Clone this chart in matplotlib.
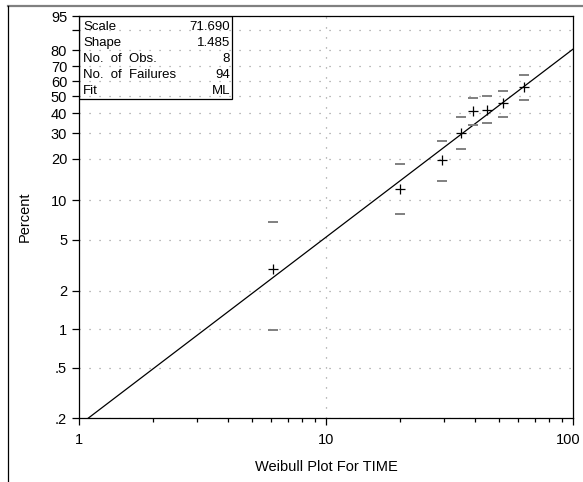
import matplotlib
matplotlib.use("Agg")
import matplotlib.pyplot as plt
from matplotlib.lines import Line2D
from matplotlib.patches import Rectangle
from matplotlib.transforms import ScaledTranslation
import numpy as np

plt.rcParams['font.family'] = ['Liberation Sans', 'DejaVu Sans']
plt.rcParams['lines.scale_dashes'] = False

# fitted Weibull parameters and summary
scale = 71.690
shape = 1.485
info_labels = ['Scale', 'Shape', 'No.  of  Obs.', 'No.  of  Failures', 'Fit']
info_values = ['71.690', '1.485', '8', '94', 'ML']

# observations (time, percent) with confidence bounds
time = [6.1, 19.9, 29.4, 35.2, 39.3, 44.9, 52.0, 63.2]
pct = [2.97, 12.0, 19.7, 30.2, 41.0, 42.1, 45.9, 56.3]
pct_upper = [6.8, 18.4, 26.5, 37.7, 49.0, 50.2, 53.6, 63.8]
pct_lower = [0.98, 7.9, 13.9, 23.5, 33.8, 34.8, 38.2, 48.1]

yticks = [0.2, 0.5, 1, 2, 5, 10, 20, 30, 40, 50, 60, 70, 80, 90, 95]
ytick_labels = ['.2', '.5', '1', '2', '5', '10', '20', '30', '40', '50',
                '60', '70', '80', '', '95']
xticks = [1, 10, 100]


def fwd(p):
    p = np.clip(np.asarray(p, dtype=float), 1e-6, 99.9999)
    return np.log(-np.log(1 - p / 100.0))


def inv(w):
    return 100.0 * (1 - np.exp(-np.exp(w)))


fig = plt.figure(figsize=(5.83, 4.82), dpi=100)
ax = fig.add_axes([79 / 583, 64 / 482, 494 / 583, 402 / 482])
ax.set_xscale('log')
ax.set_yscale('function', functions=(fwd, inv))
ax.set_xlim(1, 100)
ax.set_ylim(0.2, 95)

# grid
for yv in yticks:
    ax.axhline(yv, color='#909090', lw=0.9, ls=(0, (0.8, 6.4)), zorder=1)
ax.axvline(10, color='#909090', lw=0.9, ls=(0, (0.8, 6.4)), zorder=1)

# fitted line
t = np.geomspace(1, 100, 200)
ax.plot(t, 100 * (1 - np.exp(-(t / scale) ** shape)), color='black', lw=0.9, zorder=3)

# points and bounds
ax.plot(time, pct, ls='none', marker='+', ms=7, mew=0.9, color='black', zorder=4)
ax.plot(time, pct_upper, ls='none', marker='_', ms=7, mew=1.4, color='#808080', zorder=4)
ax.plot(time, pct_lower, ls='none', marker='_', ms=7, mew=1.4, color='#808080', zorder=4)

ax.set_yticks(yticks)
ax.set_yticklabels(ytick_labels)
ax.yaxis.set_minor_locator(matplotlib.ticker.NullLocator())
ax.set_xticks(xticks)
ax.set_xticklabels(['1', '10', '100'])
ax.tick_params(axis='both', which='major', labelsize=10.5, length=5, width=0.9, direction='out')
ax.tick_params(axis='x', which='minor', length=3, width=0.9, direction='out')
ax.xaxis.set_minor_formatter(matplotlib.ticker.NullFormatter())
ax.tick_params(axis='x', pad=6)
for s in ax.spines.values():
    s.set_linewidth(0.9)

# keep the last x label inside the picture
last = ax.get_xticklabels()[-1]
last.set_transform(last.get_transform() + ScaledTranslation(-3.5 / 72, 0, fig.dpi_scale_trans))

ax.set_xlabel('Weibull Plot For TIME', fontsize=10.5, labelpad=9)
ax.set_ylabel('Percent', fontsize=10.5, labelpad=14)

# info box
ax.add_patch(Rectangle((0, 0.7935), 0.31, 0.2065, transform=ax.transAxes,
                       fill=False, edgecolor='black', lw=0.9, zorder=5))
rows_y = [0.972, 0.932, 0.892, 0.852, 0.813]
for lab, val, yy in zip(info_labels, info_values, rows_y):
    ax.text(0.008, yy, lab, transform=ax.transAxes, fontsize=9.5, va='center', ha='left', zorder=6)
    ax.text(0.306, yy, val, transform=ax.transAxes, fontsize=9.5, va='center', ha='right', zorder=6)

# outer frame
fig.add_artist(Line2D([8 / 583, 1], [1 - 6 / 482, 1 - 6 / 482], transform=fig.transFigure,
                      color='#808080', lw=1.6))
fig.add_artist(Line2D([8 / 583, 8 / 583], [0, 1 - 6 / 482], transform=fig.transFigure,
                      color='black', lw=0.9))

fig.savefig('out.png', dpi=100)
